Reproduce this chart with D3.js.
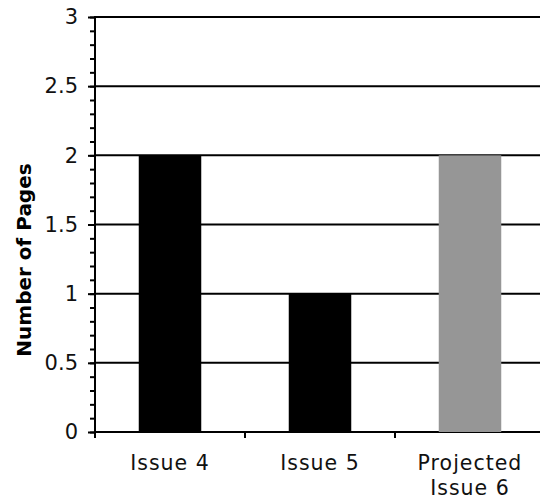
<!DOCTYPE html>
<html>
<head>
<meta charset="utf-8">
<script src="https://cdn.jsdelivr.net/npm/d3@7"></script>
<style>
  html, body { margin: 0; padding: 0; background: #fff; }
  svg { display: block; }
  text { font-family: "DejaVu Sans", Verdana, sans-serif; }
</style>
</head>
<body>
<svg id="chart" width="540" height="499"></svg>
<script>
const categories = [["Issue 4"], ["Issue 5"], ["Projected", "Issue 6"]];
const pages = [2, 1, 2];
const barColors = ["#000000", "#000000", "#969696"];
const yTicks = [0, 0.5, 1, 1.5, 2, 2.5, 3];
const yTickLabels = ["0", "0.5", "1", "1.5", "2", "2.5", "3"];

const svg = d3.select("#chart");
const pLeft = 95, pRight = 545, pTop = 17, pBottom = 432;

const x = d3.scaleBand().domain(d3.range(categories.length)).range([pLeft, pRight]).paddingInner(0).paddingOuter(0);
const y = d3.scaleLinear().domain([0, 3]).range([pBottom, pTop]);

// gridlines
svg.append("g").selectAll("line").data(yTicks).join("line")
  .attr("x1", pLeft).attr("x2", 540)
  .attr("y1", d => y(d)).attr("y2", d => y(d))
  .attr("stroke", "#000").attr("stroke-width", 2);

// bars
const barW = x.bandwidth() / 2.4;
svg.append("g").selectAll("rect").data(pages).join("rect")
  .attr("x", (d, i) => x(i) + (x.bandwidth() - barW) / 2)
  .attr("width", barW)
  .attr("y", d => y(d))
  .attr("height", d => y(0) - y(d))
  .attr("fill", (d, i) => barColors[i]);

// y axis
const yAxis = d3.axisLeft(y).tickValues(yTicks).tickFormat((d, i) => yTickLabels[i]).tickSize(7).tickPadding(10);
const yMinor = d3.axisLeft(y).tickValues(d3.range(0, 31).map(v => v / 10)).tickFormat("").tickSize(5);
const gyMinor = svg.append("g").attr("transform", `translate(${pLeft},0)`).call(yMinor);
gyMinor.select(".domain").remove();
gyMinor.selectAll("line").attr("stroke", "#000").attr("stroke-width", 2);
const gy = svg.append("g").attr("transform", `translate(${pLeft},0)`).call(yAxis);
gy.select(".domain").attr("stroke", "#000").attr("stroke-width", 2).attr("d", `M0,${pTop - 1}V${pBottom + 1}`);
gy.selectAll(".tick line").attr("stroke", "#000").attr("stroke-width", 2);
gy.selectAll(".tick text").attr("font-size", 21).attr("fill", "#111")
  .style("font-family", '"DejaVu Sans", Verdana, sans-serif');

// x axis ticks at category boundaries
const xb = d3.scaleLinear().domain([0, categories.length]).range([pLeft, pRight]);
svg.append("g").selectAll("line").data(d3.range(categories.length + 1)).join("line")
  .attr("x1", d => xb(d)).attr("x2", d => xb(d))
  .attr("y1", pBottom).attr("y2", pBottom + 6)
  .attr("stroke", "#000").attr("stroke-width", 2);

const labels = svg.append("g").selectAll("text").data(categories).join("text")
  .attr("text-anchor", "middle")
  .attr("font-size", 20.5)
  .attr("letter-spacing", 1)
  .attr("fill", "#111")
  .attr("x", (d, i) => x(i) + x.bandwidth() / 2)
  .attr("y", 470);
labels.selectAll("tspan").data(d => d).join("tspan")
  .attr("x", function() { return d3.select(this.parentNode).attr("x"); })
  .attr("dy", (d, i) => i === 0 ? 0 : 25)
  .text(d => d);

// y title
svg.append("text")
  .attr("transform", `translate(31,${260}) rotate(-90)`)
  .attr("text-anchor", "middle")
  .attr("font-size", 20)
  .attr("font-weight", "bold")
  .attr("fill", "#000")
  .text("Number of Pages");
</script>
</body>
</html>
